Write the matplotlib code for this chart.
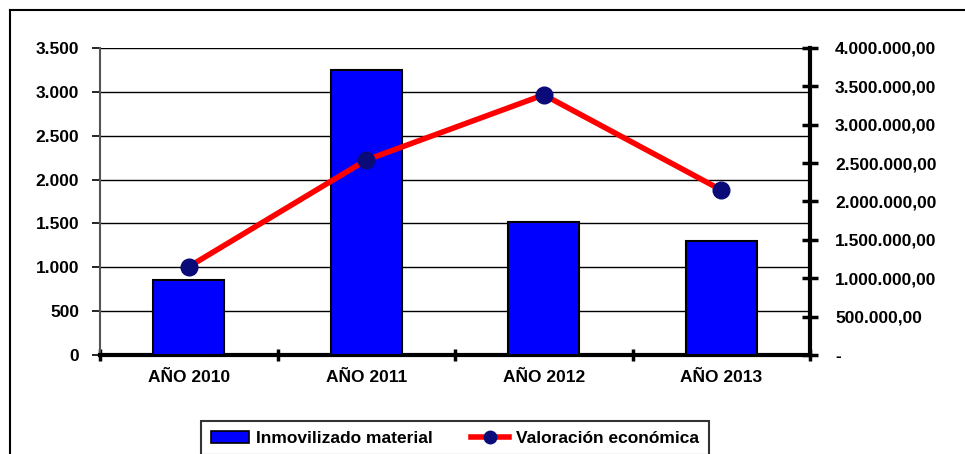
import matplotlib
matplotlib.use('Agg')
import matplotlib.pyplot as plt
from matplotlib.lines import Line2D
from matplotlib.patches import Patch
from matplotlib.ticker import FuncFormatter, FixedLocator
import numpy as np

plt.rcParams['font.family'] = ['Liberation Sans', 'DejaVu Sans']
plt.rcParams['font.weight'] = 'bold'

# data
years = ['AÑO 2010', 'AÑO 2011', 'AÑO 2012', 'AÑO 2013']
inmovilizado = [860, 3250, 1515, 1300]
valoracion = [1150000, 2540000, 3390000, 2150000]

FS = 12.5


def fmt_left(v, pos):
    return '{:,.0f}'.format(v).replace(',', '.')


def fmt_right(v, pos):
    if v == 0:
        return '-'
    s = '{:,.2f}'.format(v)
    return s.replace(',', 'X').replace('.', ',').replace('X', '.')


fig = plt.figure(figsize=(9.65, 4.54), dpi=100)
ax = fig.add_axes([100 / 965, 1 - 355 / 454, 710 / 965, 307 / 454])
ax2 = ax.twinx()

x = np.arange(len(years))
ax.bar(x, inmovilizado, width=0.4, color='#0000ff', edgecolor='black', linewidth=1.5, zorder=3)
ax.set_ylim(0, 3500)
ax.set_xlim(-0.5, len(years) - 0.5)
ax.set_yticks(np.arange(0, 3501, 500))
ax.yaxis.set_major_formatter(FuncFormatter(fmt_left))
ax.grid(axis='y', color='black', linewidth=1, zorder=0)
ax.set_xticks(x)
ax.set_xticklabels(years, fontsize=FS, fontweight='bold')
ax.xaxis.set_minor_locator(FixedLocator(np.arange(-0.5, len(years), 1.0)))
ax.tick_params(axis='x', which='major', length=0, pad=11)
ax.tick_params(axis='x', which='minor', length=8, width=2.5, direction='inout')
ax.tick_params(axis='y', length=6, width=1.2, labelsize=FS, pad=9)
for lab in ax.get_yticklabels():
    lab.set_fontweight('bold')
ax.spines['top'].set_visible(False)
ax.spines['right'].set_visible(False)
ax.spines['left'].set_color('#555555')
ax.spines['left'].set_linewidth(1.5)
ax.spines['bottom'].set_linewidth(3)
ax.set_axisbelow(True)

ax2.plot(x, valoracion, color='#ff0000', linewidth=4, marker='o', markersize=12,
         markerfacecolor='#0a0a78', markeredgecolor='#0a0a78', zorder=4)
ax2.set_ylim(0, 4000000)
ax2.set_yticks(np.arange(0, 4000001, 500000))
ax2.yaxis.set_major_formatter(FuncFormatter(fmt_right))
ax2.tick_params(axis='y', length=12, width=2.5, direction='inout', labelsize=FS, pad=12)
for lab in ax2.get_yticklabels():
    lab.set_fontweight('bold')
for s in ['top', 'left', 'bottom']:
    ax2.spines[s].set_visible(False)
ax2.spines['right'].set_linewidth(3)

# outer chart frame
fig.add_artist(Line2D([10 / 965, 10 / 965], [0, 1 - 10 / 454], color='black', linewidth=1.5))
fig.add_artist(Line2D([10 / 965, 1], [1 - 10 / 454, 1 - 10 / 454], color='black', linewidth=1.5))

handles = [Patch(facecolor='#0000ff', edgecolor='black', linewidth=1.2),
           Line2D([], [], color='#ff0000', linewidth=4, marker='o', markersize=9,
                  markerfacecolor='#0a0a78', markeredgecolor='#0a0a78')]
leg = fig.legend(handles, ['Inmovilizado material', 'Valoración económica'],
                 loc='upper center', bbox_to_anchor=(455 / 965, 1 - 421 / 454), ncol=2,
                 frameon=True, fancybox=False, edgecolor='black', fontsize=FS,
                 handlelength=2.2, handletextpad=0.4, columnspacing=2.2, borderpad=0.55,
                 borderaxespad=0)
leg.get_frame().set_linewidth(1.5)
for t in leg.get_texts():
    t.set_fontweight('bold')

fig.savefig('out.png', dpi=100)
